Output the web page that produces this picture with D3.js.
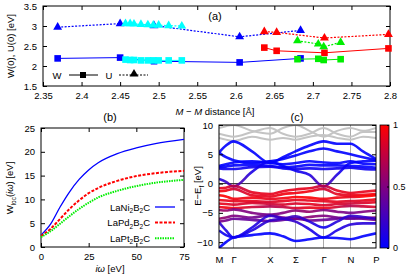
<!DOCTYPE html>
<html>
<head>
<meta charset="utf-8">
<script src="https://cdn.jsdelivr.net/npm/d3@7"></script>
<style>
body { margin: 0; background: #fff; }
svg { font-family: "Liberation Sans", Arial, sans-serif; font-size: 9.5px; }
</style>
</head>
<body>
<div id="chart"></div>
<script>
// ---- panel (a): W(0), U(0) vs M-M distance
var distNi = [2.369, 2.450, 2.494, 2.605, 2.684];
var wNi = [2.19, 2.21, 2.12, 2.09, 2.19];
var uNi = [2.97, 3.06, 3.01, 2.73, 2.89];
var distCyan = [2.457, 2.463, 2.468, 2.477, 2.486, 2.493, 2.500, 2.513, 2.530];
var wCyan = [2.16, 2.15, 2.15, 2.14, 2.14, 2.14, 2.14, 2.14, 2.14];
var uCyan = [3.06, 3.06, 3.05, 3.04, 3.03, 3.02, 3.02, 3.01, 3.00];
var distRed = [2.637, 2.653, 2.715, 2.798];
var wRed = [2.46, 2.38, 2.33, 2.44];
var uRed = [2.86, 2.84, 2.70, 2.79];
var distGreen = [2.680, 2.707, 2.714, 2.736];
var wGreen = [2.17, 2.18, 2.15, 2.17];
var uGreen = [2.63, 2.55, 2.48, 2.59];

// ---- panel (b): W_loc(iw)
var omega = [0, 5, 10, 15, 20, 25, 30, 40, 50, 60, 75];
var wlocNi = [2.5, 4.8, 8.4, 11.6, 14.2, 16.2, 17.7, 19.6, 20.8, 21.7, 22.6];
var wlocPd = [2.3, 3.8, 5.9, 8.0, 9.8, 11.3, 12.4, 13.9, 14.9, 15.5, 16.0];
var wlocPt = [2.1, 3.3, 4.9, 6.5, 8.0, 9.3, 10.4, 11.8, 12.8, 13.5, 14.1];

// ---- panel (c): bands
var kLabels = ["M", "\u0393", "X", "\u03A3", "\u0393", "N", "P"];
var kTicks = [0, 14.5, 51, 76.5, 104.5, 131.5, 157];
var kPts = [0, 7, 14.5, 33, 51, 64, 76.5, 90.5, 104.5, 118, 131.5, 144, 157];
var grayBands = [
  [9.5, 9.8, 10, 9.0, 8.5, 9.5, 10, 9.0, 8.0, 9.0, 9.5, 9.0, 9.5],
  [8.5, 8.2, 8.0, 8.8, 9.5, 8.5, 8.0, 8.5, 9.5, 8.5, 8.0, 8.8, 8.8],
  [7.8, 7.5, 7.3, 8.0, 7.5, 7.8, 7.5, 8.0, 8.3, 7.8, 7.5, 8.0, 7.8]
];
var bands = [
  [5.3, 6.5, 7.2, 5.5, 3.5, 4.5, 5.5, 6.5, 7.2, 6.8, 6.8, 5.5, 4.2],
  [5.3, 4.5, 4.0, 3.5, 3.8, 4.2, 4.8, 5.5, 6.0, 5.5, 5.0, 4.5, 4.0],
  [3.0, 3.3, 3.6, 3.8, 3.5, 3.3, 3.5, 3.8, 3.6, 3.5, 3.8, 3.4, 3.3],
  [2.8, 2.9, 3.1, 3.2, 3.0, 2.8, 2.9, 3.2, 3.1, 3.1, 3.0, 2.9, 2.7],
  [2.6, 2.5, 2.5, 2.8, 2.9, 2.6, 2.5, 2.6, 2.5, 2.6, 2.7, 2.5, 2.4],
  [0.8, 0.3, -0.5, 2.0, 3.8, 3.0, 2.2, 1.5, -0.5, 1.5, 3.5, 3.8, 3.9],
  [-0.8, -0.7, -0.4, -1.5, -1.8, -1.3, -1.0, -0.8, -0.4, -1.2, -1.6, -1.4, -1.2],
  [-1.3, -1.2, -0.9, -2.0, -2.2, -1.8, -1.6, -1.3, -0.9, -1.8, -2.0, -1.9, -1.8],
  [-2.0, -2.2, -2.6, -2.4, -2.6, -2.5, -2.3, -2.4, -2.6, -2.4, -2.3, -2.2, -2.0],
  [-2.8, -2.9, -3.0, -3.0, -3.1, -3.0, -2.8, -2.9, -3.0, -3.1, -3.0, -2.9, -2.7],
  [-3.4, -3.5, -3.6, -3.3, -3.5, -3.6, -3.4, -3.5, -3.7, -3.5, -3.4, -3.3, -3.2],
  [-4.0, -4.1, -4.2, -4.0, -3.9, -4.0, -4.2, -4.1, -4.2, -4.0, -3.8, -3.9, -4.0],
  [-4.5, -4.6, -4.4, -5.0, -5.3, -5.0, -4.6, -4.8, -4.5, -4.8, -5.0, -4.8, -4.6],
  [-6.0, -5.8, -5.5, -5.8, -5.4, -5.8, -6.0, -5.7, -5.5, -5.8, -6.0, -5.9, -5.8],
  [-6.5, -6.3, -6.0, -6.2, -6.4, -6.2, -6.0, -6.3, -6.2, -6.0, -5.8, -6.0, -6.2],
  [-6.6, -8.0, -9.2, -7.5, -5.5, -6.0, -6.5, -7.8, -9.2, -8.0, -7.0, -6.8, -6.8],
  [-11, -10.0, -9.2, -8.8, -8.5, -9.0, -9.8, -9.5, -9.2, -9.3, -9.5, -9.0, -8.5],
  [-8.0, -8.8, -9.2, -8.0, -6.3, -6.0, -5.6, -6.5, -7.5, -6.5, -5.5, -5.7, -6.0]
];
var bandWeights = [
  [0, 0, 0, 0, 0, 0, 0, 0, 0, 0, 0, 0, 0],
  [0, 0, 0, 0, 0, 0, 0, 0, 0, 0, 0, 0, 0],
  [0, 0, 0, 0, 0, 0, 0, 0, 0, 0, 0, 0, 0],
  [0, 0, 0, 0, 0, 0, 0, 0, 0, 0, 0, 0, 0],
  [0.05, 0.05, 0.05, 0.05, 0.05, 0.05, 0.05, 0.05, 0.05, 0.05, 0.05, 0.05, 0.05],
  [0.1, 0.2, 0.4, 0.1, 0, 0, 0.05, 0.1, 0.4, 0.1, 0, 0, 0],
  [0.9, 0.9, 0.7, 0.9, 0.9, 0.9, 0.9, 0.9, 0.7, 0.9, 0.9, 0.9, 0.9],
  [0.95, 0.95, 0.8, 0.9, 0.9, 0.95, 0.95, 0.95, 0.8, 0.9, 0.9, 0.95, 0.95],
  [1, 1, 0.95, 0.95, 0.9, 0.95, 1, 1, 0.95, 0.95, 0.9, 1, 1],
  [0.95, 0.9, 0.9, 0.9, 0.85, 0.9, 0.9, 0.9, 0.9, 0.9, 0.85, 0.9, 0.95],
  [0.9, 0.9, 0.85, 0.85, 0.8, 0.85, 0.85, 0.9, 0.85, 0.85, 0.8, 0.85, 0.9],
  [0.9, 0.95, 0.95, 0.8, 0.7, 0.75, 0.85, 0.9, 0.95, 0.8, 0.7, 0.8, 0.85],
  [0.6, 0.6, 0.5, 0.5, 0.45, 0.5, 0.55, 0.6, 0.5, 0.5, 0.45, 0.5, 0.55],
  [0.6, 0.55, 0.5, 0.45, 0.4, 0.45, 0.5, 0.55, 0.5, 0.45, 0.4, 0.5, 0.55],
  [0.5, 0.45, 0.4, 0.4, 0.35, 0.4, 0.45, 0.45, 0.4, 0.4, 0.35, 0.4, 0.45],
  [0.2, 0.1, 0.05, 0.1, 0.2, 0.2, 0.2, 0.1, 0.05, 0.1, 0.15, 0.15, 0.15],
  [0, 0, 0, 0, 0, 0, 0, 0, 0, 0, 0, 0, 0],
  [0.05, 0.05, 0.05, 0.1, 0.2, 0.2, 0.25, 0.15, 0.05, 0.15, 0.2, 0.2, 0.2]
];
var cbTicks = [0, 0.5, 1];

var svg = d3.select("#chart").append("svg")
  .attr("width", 407).attr("height", 278);

var tickLen = 4;

function frameAxes(g, x, y, box, xt, yt, xfmt, yfmt) {
  g.append("g").attr("transform", `translate(0,${box.bottom})`)
    .call(d3.axisBottom(x).tickValues(xt).tickSize(-tickLen).tickPadding(6).tickFormat(xfmt));
  g.append("g").attr("transform", `translate(0,${box.top})`)
    .call(d3.axisTop(x).tickValues(xt).tickSize(-tickLen).tickFormat(""));
  g.append("g").attr("transform", `translate(${box.left},0)`)
    .call(d3.axisLeft(y).tickValues(yt).tickSize(-tickLen).tickPadding(6).tickFormat(yfmt));
  g.append("g").attr("transform", `translate(${box.right},0)`)
    .call(d3.axisRight(y).tickValues(yt).tickSize(-tickLen).tickFormat(""));
  g.selectAll(".domain").remove();
  g.selectAll(".tick line").attr("stroke", "#000");
  g.selectAll(".tick text").attr("font-size", "9.5px").attr("fill", "#000").attr("font-family", null);
  g.append("rect").attr("x", box.left).attr("y", box.top)
    .attr("width", box.right - box.left).attr("height", box.bottom - box.top)
    .attr("fill", "none").attr("stroke", "#000").attr("stroke-width", 1);
}

// ================= panel (a)
var boxA = { left: 43, right: 390, top: 6, bottom: 86 };
var xA = d3.scaleLinear().domain([2.35, 2.8]).range([boxA.left, boxA.right]);
var yA = d3.scaleLinear().domain([1.5, 3.5]).range([boxA.bottom, boxA.top]);
var gA = svg.append("g");
frameAxes(gA, xA, yA, boxA, d3.range(2.35, 2.8001, 0.05), [1.5, 2, 2.5, 3, 3.5],
  d => d3.format("")(+d.toFixed(2)), d => d3.format("")(d));

var seriesA = [
  { x: distNi, w: wNi, u: uNi, color: "#0000ff" },
  { x: distCyan, w: wCyan, u: uCyan, color: "#00ffff" },
  { x: distRed, w: wRed, u: uRed, color: "#ff0000" },
  { x: distGreen, w: wGreen, u: uGreen, color: "#00ee00" }
];
var lineA = d3.line().x(d => xA(d[0])).y(d => yA(d[1]));
var triangle = d3.symbol().type(d3.symbolTriangle).size(34);
seriesA.forEach(function(s) {
  var wp = s.x.map((v, i) => [v, s.w[i]]);
  var up = s.x.map((v, i) => [v, s.u[i]]);
  gA.append("path").attr("d", lineA(wp)).attr("fill", "none")
    .attr("stroke", s.color).attr("stroke-width", 1);
  gA.append("path").attr("d", lineA(up)).attr("fill", "none")
    .attr("stroke", s.color).attr("stroke-width", 1.2).attr("stroke-dasharray", "2,1.5");
  gA.selectAll(null).data(wp).enter().append("rect")
    .attr("x", d => xA(d[0]) - 3.3).attr("y", d => yA(d[1]) - 3.3)
    .attr("width", 6.6).attr("height", 6.6).attr("fill", s.color);
  gA.selectAll(null).data(up).enter().append("path")
    .attr("d", triangle)
    .attr("transform", d => `translate(${xA(d[0])},${yA(d[1])})`)
    .attr("fill", s.color);
});

// legend W / U
gA.append("text").attr("x", 57).attr("y", 78.5).attr("text-anchor", "middle").text("W");
gA.append("line").attr("x1", 69).attr("x2", 98).attr("y1", 75).attr("y2", 75).attr("stroke", "#000");
gA.append("rect").attr("x", 80).attr("y", 72).attr("width", 6).attr("height", 6).attr("fill", "#000");
gA.append("text").attr("x", 109).attr("y", 78.5).attr("text-anchor", "middle").text("U");
gA.append("line").attr("x1", 119).attr("x2", 148).attr("y1", 75).attr("y2", 75)
  .attr("stroke", "#000").attr("stroke-dasharray", "2,1.5");
gA.append("path").attr("d", triangle).attr("transform", "translate(134,74)").attr("fill", "#000");

gA.append("text").attr("x", 215).attr("y", 20).attr("text-anchor", "middle")
  .attr("font-size", "11px").text("(a)");
var xlab = gA.append("text").attr("x", 215).attr("y", 115).attr("text-anchor", "middle");
xlab.append("tspan").attr("font-style", "italic").text("M");
xlab.append("tspan").text(" \u2212 ");
xlab.append("tspan").attr("font-style", "italic").text("M");
xlab.append("tspan").text(" distance [\u00C5]");
gA.append("text").attr("transform", "translate(14,46) rotate(-90)")
  .attr("text-anchor", "middle").text("W(0), U(0) [eV]");

// ================= panel (b)
var boxB = { left: 41, right: 184, top: 128, bottom: 247 };
var xB = d3.scaleLinear().domain([0, 75]).range([boxB.left, boxB.right]);
var yB = d3.scaleLinear().domain([0, 25]).range([boxB.bottom, boxB.top]);
var gB = svg.append("g");
frameAxes(gB, xB, yB, boxB, [0, 25, 50, 75], [0, 5, 10, 15, 20, 25],
  d3.format("d"), d3.format("d"));

var seriesB = [
  { name: "Ni", v: wlocNi, color: "#0000ff", dash: null, width: 1.3 },
  { name: "Pd", v: wlocPd, color: "#ff0000", dash: "3,1.5", width: 2 },
  { name: "Pt", v: wlocPt, color: "#00ee00", dash: "1.5,1", width: 2 }
];
var lineB = d3.line().x((d, i) => xB(omega[i])).y(d => yB(d)).curve(d3.curveMonotoneX);
seriesB.forEach(function(s, i) {
  gB.append("path").attr("d", lineB(s.v)).attr("fill", "none")
    .attr("stroke", s.color).attr("stroke-width", s.width)
    .attr("stroke-dasharray", s.dash);
  var ly = 207 + i * 15.6;
  gB.append("line").attr("x1", 155).attr("x2", 175).attr("y1", ly).attr("y2", ly)
    .attr("stroke", s.color).attr("stroke-width", s.width).attr("stroke-dasharray", s.dash);
  var t = gB.append("text").attr("x", 150).attr("y", ly + 3.5).attr("text-anchor", "end");
  t.append("tspan").text("La" + s.name);
  t.append("tspan").attr("font-size", "6.5px").attr("dy", 2.5).text("2");
  t.append("tspan").attr("dy", -2.5).text("B");
  t.append("tspan").attr("font-size", "6.5px").attr("dy", 2.5).text("2");
  t.append("tspan").attr("dy", -2.5).text("C");
});
gB.append("text").attr("x", 110).attr("y", 121).attr("text-anchor", "middle")
  .attr("font-size", "11px").text("(b)");
var xlabB = gB.append("text").attr("x", 110).attr("y", 272).attr("text-anchor", "middle");
xlabB.append("tspan").attr("font-style", "italic").text("i\u03C9");
xlabB.append("tspan").text(" [eV]");
var ylabB = gB.append("text").attr("transform", "translate(13,188) rotate(-90)").attr("text-anchor", "middle");
ylabB.append("tspan").text("W");
ylabB.append("tspan").attr("font-size", "6.5px").attr("dy", 2.5).text("loc");
ylabB.append("tspan").attr("dy", -2.5).text("(");
ylabB.append("tspan").attr("font-style", "italic").text("i\u03C9");
ylabB.append("tspan").text(") [eV]");

// ================= panel (c)
var boxC = { left: 219, right: 376, top: 125, bottom: 248 };
var xC = d3.scaleLinear().domain([0, 157]).range([boxC.left, boxC.right]);
var yC = d3.scaleLinear().domain([-11, 10]).range([boxC.bottom, boxC.top]);
var gC = svg.append("g");
var defs = svg.append("defs");
defs.append("clipPath").attr("id", "clipC").append("rect")
  .attr("x", boxC.left).attr("y", boxC.top)
  .attr("width", boxC.right - boxC.left).attr("height", boxC.bottom - boxC.top);

var weightColor = d3.interpolateRgb("#0000ff", "#ff0000");
var plotC = gC.append("g").attr("clip-path", "url(#clipC)");
plotC.selectAll(null).data(kTicks.slice(1, -1)).enter().append("line")
  .attr("x1", d => xC(d)).attr("x2", d => xC(d))
  .attr("y1", boxC.top).attr("y2", boxC.bottom)
  .attr("stroke", "#aaa").attr("stroke-width", 1);
var lineC = d3.line().x((d, i) => xC(kPts[i])).y(d => yC(d)).curve(d3.curveMonotoneX);
grayBands.forEach(function(b) {
  plotC.append("path").attr("d", lineC(b)).attr("fill", "none")
    .attr("stroke", "#c4c4c4").attr("stroke-width", 2);
});
plotC.append("line").attr("x1", boxC.left).attr("x2", boxC.right)
  .attr("y1", yC(0)).attr("y2", yC(0)).attr("stroke", "#333").attr("stroke-width", 1);
bands.forEach(function(b, bi) {
  var gid = "band" + bi;
  var grad = defs.append("linearGradient").attr("id", gid)
    .attr("gradientUnits", "userSpaceOnUse")
    .attr("x1", boxC.left).attr("x2", boxC.right).attr("y1", 0).attr("y2", 0);
  bandWeights[bi].forEach(function(w, i) {
    grad.append("stop").attr("offset", (xC(kPts[i]) - boxC.left) / (boxC.right - boxC.left))
      .attr("stop-color", weightColor(w));
  });
  plotC.append("path").attr("d", lineC(b)).attr("fill", "none")
    .attr("stroke", `url(#${gid})`).attr("stroke-width", 2.6).attr("stroke-opacity", 0.9);
});

// axes of (c)
var axC = gC.append("g");
axC.append("g").attr("transform", `translate(${boxC.left},0)`)
  .call(d3.axisLeft(yC).tickValues([-10, -5, 0, 5, 10]).tickSize(-tickLen).tickPadding(6).tickFormat(d => d < 0 ? "\u2212" + (-d) : d));
axC.append("g").attr("transform", `translate(${boxC.right},0)`)
  .call(d3.axisRight(yC).tickValues([-10, -5, 0, 5, 10]).tickSize(-tickLen).tickFormat(""));
axC.append("g").attr("transform", `translate(0,${boxC.bottom})`)
  .call(d3.axisBottom(xC).tickValues(kTicks).tickSize(0).tickPadding(8).tickFormat((d, i) => kLabels[i]));
axC.selectAll(".domain").remove();
axC.selectAll(".tick line").attr("stroke", "#000");
axC.selectAll(".tick text").attr("font-size", "9.5px").attr("fill", "#000").attr("font-family", null);
axC.append("rect").attr("x", boxC.left).attr("y", boxC.top)
  .attr("width", boxC.right - boxC.left).attr("height", boxC.bottom - boxC.top)
  .attr("fill", "none").attr("stroke", "#000");
gC.append("text").attr("x", 297).attr("y", 121).attr("text-anchor", "middle")
  .attr("font-size", "11px").text("(c)");
var ylabC = gC.append("text").attr("transform", "translate(201,186) rotate(-90)").attr("text-anchor", "middle");
ylabC.append("tspan").text("E\u2212E");
ylabC.append("tspan").attr("font-size", "6.5px").attr("dy", 2.5).text("f");
ylabC.append("tspan").attr("dy", -2.5).text(" [eV]");

// colorbar
var cb = { left: 380, right: 389, top: 125, bottom: 248 };
var yCb = d3.scaleLinear().domain([0, 1]).range([cb.bottom, cb.top]);
var cbGrad = defs.append("linearGradient").attr("id", "cbGrad")
  .attr("x1", 0).attr("x2", 0).attr("y1", 1).attr("y2", 0);
d3.range(0, 1.001, 0.1).forEach(function(v) {
  cbGrad.append("stop").attr("offset", v).attr("stop-color", weightColor(v));
});
gC.append("rect").attr("x", cb.left).attr("y", cb.top)
  .attr("width", cb.right - cb.left).attr("height", cb.bottom - cb.top)
  .attr("fill", "url(#cbGrad)").attr("stroke", "#000").attr("stroke-width", 0.8);
var cbAxis = gC.append("g").attr("transform", `translate(${cb.right},0)`)
  .call(d3.axisRight(yCb).tickValues(cbTicks).tickSize(-2).tickPadding(4).tickFormat(d3.format("")));
cbAxis.select(".domain").remove();
cbAxis.selectAll(".tick line").attr("stroke", "#000");
cbAxis.selectAll(".tick text").attr("font-size", "9px").attr("fill", "#000").attr("font-family", null);
</script>
</body>
</html>
